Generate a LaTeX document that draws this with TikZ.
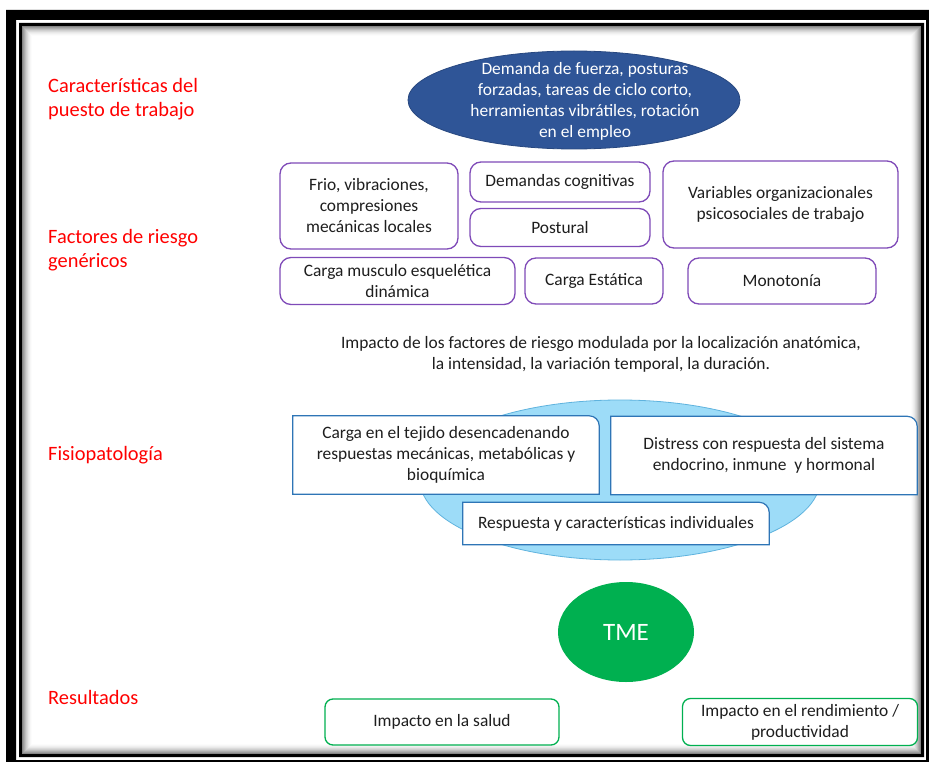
\documentclass[tikz,border=0pt]{standalone}
\usepackage{fontspec}
\setmainfont{Carlito}
\usetikzlibrary{shapes.geometric}
\pgfdeclarelayer{back}
\pgfdeclarelayer{mid}
\pgfsetlayers{back,mid,main}
\definecolor{lblred}{HTML}{FF0000}
\definecolor{dkblue}{HTML}{2F5597}
\definecolor{ltblue}{HTML}{9DDCF8}
\definecolor{ltblueedge}{HTML}{5FB3DE}
\definecolor{boxblue}{HTML}{2E75B6}
\definecolor{purp}{HTML}{7F4AB8}
\definecolor{grn}{HTML}{00B050}
\definecolor{txt}{HTML}{1E1E1E}
\tikzset{
  lbl/.style={text=lblred, anchor=west, align=left, inner sep=0pt,
    font=\fontsize{20.4}{24}\selectfont},
  bodyfont/.style={font=\fontsize{17.4}{21}\selectfont},
  pbox/.style={draw=purp, line width=1.3pt, fill=white, rounded corners=11pt,
    align=center, inner sep=0pt, text=txt, bodyfont},
  gbox/.style={draw=grn, line width=1.3pt, fill=white, rounded corners=8pt,
    align=center, inner sep=0pt, text=txt, bodyfont},
  btext/.style={align=center, inner sep=0pt, text=txt, bodyfont},
  bframe/.style={draw=boxblue, line width=1.2pt, fill=white},
}
\begin{document}
\begin{tikzpicture}[x=1pt,y=-1pt]
\useasboundingbox (0,0) rectangle (929,762);
\begin{pgfonlayer}{back}
\fill[white] (0,0) rectangle (929,762);
% outer thick frame
\fill[black, even odd rule] (6,10) rectangle (945,780) (16,20) rectangle (926,760);
% inner thin frame
\fill[black, even odd rule] (19,23) rectangle (924,757) (22,26) rectangle (921,754);
% inner shadow
\foreach \i in {0,...,10}{
  \pgfmathtruncatemacro\c{int(48*(1-\i/11)^2)}
  \draw[line width=1.05pt, color=black!\c] (22.5+\i,26.5+\i) rectangle (920.5-\i,753.5-\i);
}
\end{pgfonlayer}

% row labels
\node[lbl] (l1) at (48,99.5) {Características del\\puesto de trabajo};
\node[lbl] (l2) at (48,250.5) {Factores de riesgo\\genéricos};
\node[lbl] (l3) at (48,455) {Fisiopatología};
\node[lbl] (l4) at (48,697) {Resultados};

% job characteristics ellipse
\node[ellipse, fill=dkblue, draw=dkblue!85!black, line width=0.8pt,
  minimum width=332pt, minimum height=98pt, inner sep=0pt] (job) at (574,100) {};
\node[align=center, inner sep=0pt, text=white, bodyfont] (jobt) at (585,101)
  {Demanda de fuerza, posturas\\forzadas, tareas de ciclo corto,\\herramientas vibrátiles, rotación\\en el empleo};

% generic risk factors
\node[pbox, minimum width=178pt, minimum height=86pt] (frio) at (369,206)
  {Frio, vibraciones,\\compresiones\\mecánicas locales};
\node[pbox, minimum width=180pt, minimum height=40pt] (cog) at (560,182)
  {Demandas cognitivas};
\node[pbox, minimum width=180pt, minimum height=38pt] (post) at (560,227.5)
  {Postural};
\node[pbox, minimum width=235pt, minimum height=87pt] (var) at (780.5,204.5)
  {Variables organizacionales\\psicosociales de trabajo};
\node[pbox, minimum width=235pt, minimum height=47pt] (dyn) at (397.5,281)
  {Carga musculo esquelética\\dinámica};
\node[pbox, minimum width=138pt, minimum height=46pt] (stat) at (594,281)
  {Carga Estática};
\node[pbox, minimum width=188pt, minimum height=46pt] (mono) at (782,281)
  {Monotonía};

% impact text
\node[btext] (imp) at (601,354.5)
  {Impacto de los factores de riesgo modulada por la localización anatómica,\\la intensidad, la variación temporal, la duración.};

% physiopathology
\begin{pgfonlayer}{back}
\node[ellipse, fill=ltblue, draw=ltblueedge, line width=0.8pt,
  minimum width=400pt, minimum height=160pt, inner sep=0pt] (phys) at (620,480) {};
\end{pgfonlayer}
\node[btext, minimum width=306pt, minimum height=78pt] (tej) at (446,455)
  {Carga en el tejido desencadenando\\respuestas mecánicas, metabólicas y\\bioquímica};
\node[btext, minimum width=306pt, minimum height=78pt] (dis) at (764,455.5)
  {Distress con respuesta del sistema\\endocrino, inmune\ \ y hormonal};
\node[btext, minimum width=306pt, minimum height=42pt] (ind) at (616,523.5)
  {Respuesta y características individuales};
\begin{pgfonlayer}{mid}
\foreach \n in {tej,dis,ind}{
  \draw[bframe] (\n.south west) -- (\n.north west) -- ([xshift=-10pt]\n.north east)
    arc[start angle=90, end angle=0, radius=10pt] -- (\n.south east) -- cycle;
}
\end{pgfonlayer}

% TME
\node[ellipse, fill=grn, minimum width=136pt, minimum height=100pt, inner sep=0pt,
  text=white, font=\fontsize{25}{30}\selectfont] (tme) at (626,632) {TME};

% results
\node[gbox, minimum width=234pt, minimum height=46pt] (sal) at (442,722)
  {Impacto en la salud};
\node[gbox, minimum width=235pt, minimum height=47pt] (ren) at (800,722)
  {Impacto en el rendimiento /\\productividad};
\end{tikzpicture}
\end{document}
